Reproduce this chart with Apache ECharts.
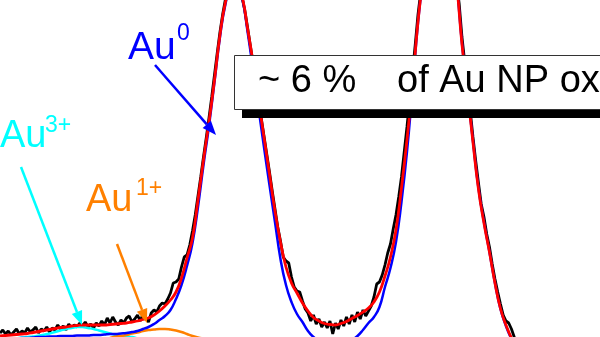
<!DOCTYPE html>
<html>
<head>
<meta charset="utf-8">
<script src="https://cdn.jsdelivr.net/npm/echarts@6/dist/echarts.min.js"></script>
<style>
html,body{margin:0;padding:0;background:#fff;}
#c{width:600px;height:337px;}
</style>
</head>
<body>
<div id="c"></div>
<script>
// Au 4f XPS spectrum (binding energy in eV, intensity in a.u.)
const BE_LEFT = 92.0;     // binding energy at left edge of view
const BE_RIGHT = 81.09;   // binding energy at right edge of view
const RAW_STEP = 0.05;
const FIT_STEP = 0.1;

// measured spectrum, starting at 92.00 eV, step 0.05 eV
const rawCounts = [
  4,7,3,6,2,5,8,3,6,4,
  9,5,7,10,4,8,6,10,5,9,
  7,12,8,11,7,13,9,12,10,14,
  11,15,10,13,9,14,11,16,12,19,
  14,20,15,12,17,14,19,21,15,18,
  22,16,23,19,15,24,27,25,31,34,
  33,38,44,54,55,58,70,80,82,92,
  106,122,141,160,180,199,219,240,262,284,
  305,323,338,348,354,357,355,349,340,327,
  310,292,274,255,236,219,201,183,165,146,
  128,110,96,80,76,74,60,50,46,45,
  36,28,24,16,22,13,18,10,15,9,
  16,3,14,8,17,11,20,13,22,15,
  25,18,27,21,26,31,40,53,55,62,
  72,84,93,108,122,140,160,185,210,237,
  264,292,322,345,365,383,400,413,422,428,
  430,427,420,408,393,375,355,333,300,275,
  250,226,200,176,154,133,120,103,90,73,
  58,45,33,22,16,14,8,0,-8
];

// total fit envelope, starting at 92.0 eV, step 0.1 eV
const fitTotal = [
  1,1.5,2,2.5,3,3.5,4.5,5.5,6.5,7.5,
  8.5,9.5,10,11,11.5,12,12,12,12,12,
  12.5,13,13.5,14,15,16,17.5,19,22,26,
  31,37,45,59,79,99,137,177,215,257,
  302,335,353,355,341,309,275,237,200,163,
  126,95,70,54,44,34,26,19.5,16,13.5,
  12.5,12,13.5,15.5,18.5,21.5,25,29,35,45,
  61,80,107,149,197,252,315,362,399,423,
  430,420,393,354,293,245,195,148,114,85,
  54,28.5,12,-1,-10,-16,-20,-22,-23,-24,-24
];

// Au0 component, starting at 92.0 eV, step 0.1 eV
const fitAu0 = [
  -2,-2,-1.5,-1.5,-1,-1,-0.5,0,0,0.5,
  0.5,1,1,1,1.5,1.5,1.5,2,2,2.5,
  3,3,3.5,4,5,6,8,10,13,17,
  21,27,38,52,71,94,130,172,211,255,
  300,333,351,355,340,306,268,229,190,152,
  115,78,52,35,23,15,6,0,-4,-7,
  -9,-10,-9,-6,-3,1,7,14,20,30,
  50,69,95,135,185,248,314,362,399,423,
  430,420,393,354,294,246,196,149,115,85,
  54,28,11,-2,-12,-18,-22,-24,-25,-26,-26
];

// Au3+ component, starting at 91.7 eV, step 0.1 eV
const AU3_START = 91.7;
const fitAu3 = [-1.5,-0.5,0,0.5,1.2,2.2,3.5,5,6.5,8,9,10,10,9,8,6.5,5,3.5,2,1,0.5,0,-1.5];

// Au1+ component, starting at 90.0 eV, step 0.1 eV
const AU1_START = 90.0;
const fitAu1 = [-1,0.5,1,2,3.5,4.5,6,7,7.5,8,8,7.5,6.5,5,3,1,-0.5,-1.5];

const labelMain = 'Au';
const supAu0 = '0';
const supAu3 = '3+';
const supAu1 = '1+';
const boxText1 = '~ 6 %';
const boxText2 = 'of Au NP ox';

function toPairs(start, step, vals) {
  return vals.map((v, i) => [+(start - i * step).toFixed(3), v]);
}

const FONT = '"Liberation Sans", Arial, sans-serif';
const BLUE = '#0000ff', RED = '#ff0000', CYAN = '#00ffff', ORANGE = '#ff8000';

function arrow(x1, y1, x2, y2, color) {
  const a = Math.atan2(y2 - y1, x2 - x1);
  const L = 14, W = 5.5;
  const bx = x2 - L * Math.cos(a), by = y2 - L * Math.sin(a);
  return [
    { type: 'line', z: 50, shape: { x1: x1, y1: y1, x2: bx, y2: by },
      style: { stroke: color, lineWidth: 2.5 } },
    { type: 'polygon', z: 50, shape: { points: [[x2, y2],
      [bx + W * Math.sin(a), by - W * Math.cos(a)],
      [bx - W * Math.sin(a), by + W * Math.cos(a)]] },
      style: { fill: color } }
  ];
}

function txt(s, x, y, size, color) {
  return { type: 'text', z: 60, style: { text: s, x: x, y: y, fill: color,
    font: 'normal ' + size + 'px ' + FONT, align: 'left', verticalAlign: 'middle' } };
}

const chart = echarts.init(document.getElementById('c'), null, { renderer: 'canvas' });

const lineSeries = (name, data, color, width, smooth, z) => ({
  name: name, type: 'line', data: data, showSymbol: false, symbol: 'none',
  smooth: smooth, z: z, clip: true,
  lineStyle: { color: color, width: width }, itemStyle: { color: color }
});

const graphics = [].concat(
  arrow(155, 65, 216, 135, BLUE),
  arrow(21, 167, 82, 325, CYAN),
  arrow(117, 244, 147, 323, ORANGE),
  [
    txt(labelMain, 128, 48.5, 39, BLUE),
    txt(supAu0, 177, 34, 23, BLUE),
    txt(labelMain, 0, 137, 38, CYAN),
    txt(supAu3, 45, 125.5, 23, CYAN),
    txt(labelMain, 86, 201, 38, ORANGE),
    txt(supAu1, 136, 188.5, 23, ORANGE),
    { type: 'rect', z: 70, shape: { x: 242, y: 63, width: 420, height: 55 },
      style: { fill: '#000' } },
    { type: 'rect', z: 71, shape: { x: 234.5, y: 55.5, width: 420, height: 54 },
      style: { fill: '#fff', stroke: '#333', lineWidth: 1 } },
    { type: 'text', z: 72, style: { text: boxText1, x: 258, y: 82, fill: '#000',
      font: 'normal 38px ' + FONT, align: 'left', verticalAlign: 'middle' } },
    { type: 'text', z: 72, style: { text: boxText2, x: 397, y: 82, fill: '#000',
      font: 'normal 38px ' + FONT, align: 'left', verticalAlign: 'middle' } }
  ]
);

chart.setOption({
  animation: false,
  backgroundColor: '#fff',
  grid: { left: 0, right: 0, top: 0, bottom: 0, containLabel: false },
  xAxis: { type: 'value', inverse: true, min: BE_RIGHT, max: BE_LEFT, show: false },
  yAxis: { type: 'value', min: 0, max: 337, show: false },
  series: [
    lineSeries('data', toPairs(BE_LEFT, RAW_STEP, rawCounts), '#000', 2.8, false, 2),
    lineSeries('Au3+', toPairs(AU3_START, FIT_STEP, fitAu3), CYAN, 2.5, 0.5, 3),
    lineSeries('Au1+', toPairs(AU1_START, FIT_STEP, fitAu1), ORANGE, 2.5, 0.5, 3),
    lineSeries('Au0', toPairs(BE_LEFT, FIT_STEP, fitAu0), BLUE, 2.5, 0.5, 4),
    lineSeries('fit', toPairs(BE_LEFT, FIT_STEP, fitTotal), RED, 2.8, 0.5, 5)
  ],
  graphic: graphics
});
</script>
</body>
</html>
